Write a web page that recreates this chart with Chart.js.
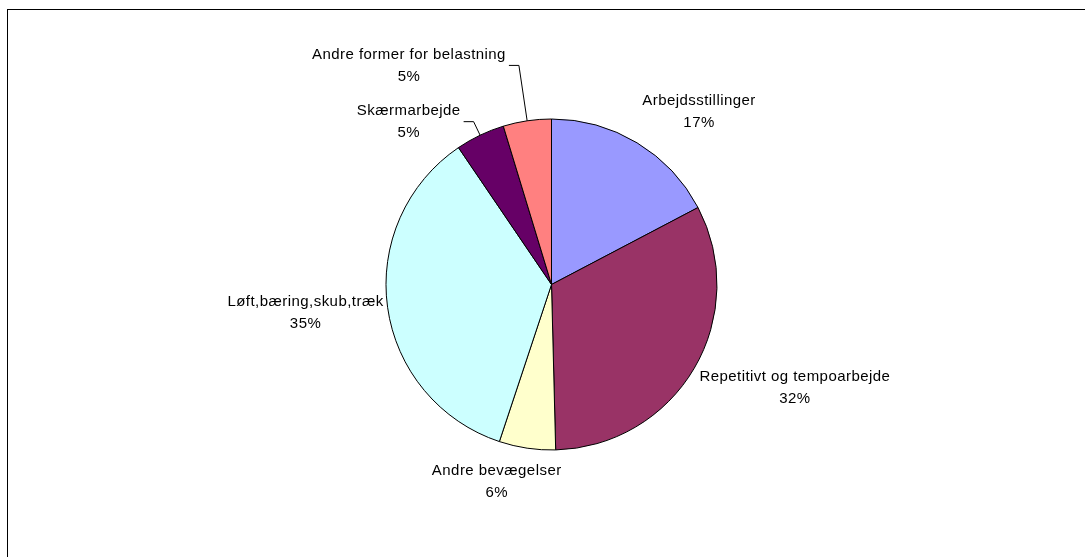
<!DOCTYPE html>
<html>
<head>
<meta charset="utf-8">
<script src="https://cdn.jsdelivr.net/npm/chart.js@4/dist/chart.umd.min.js"></script>
<style>
  body { margin: 0; background: #fff; }
  #wrap { width: 1085px; height: 557px; }
</style>
</head>
<body>
<div id="wrap"><canvas id="pie-chart" width="1085" height="557"></canvas></div>
<script>
// Categories, clockwise from 12 o'clock
const categories = ['Arbejdsstillinger', 'Repetitivt og tempoarbejde', 'Andre bevægelser',
    'Løft,bæring,skub,træk', 'Skærmarbejde', 'Andre former for belastning'];
const shares = [17.3, 32.3, 5.5, 35.4, 4.8, 4.7];
const sliceColors = ['#9999FF', '#993366', '#FFFFCC', '#CCFFFF', '#660066', '#FF8080'];

// label placement: gap outside the rim, or a leader line length
const labelGap = [10, 6, 12, 4, 0, 0];
const leaderLen = [0, 0, 0, 0, 15, 56];

const FONT = '15px "Liberation Sans", Arial, sans-serif';

const framePlugin = {
    id: 'frame',
    beforeDraw(chart) {
        const ctx = chart.ctx;
        ctx.save();
        ctx.strokeStyle = '#000';
        ctx.lineWidth = 1;
        ctx.strokeRect(7.5, 9.5, 1200, 700);
        ctx.restore();
    }
};

function clamp(v) { return Math.max(-1, Math.min(1, v)); }

const labelPlugin = {
    id: 'sliceLabels',
    afterDatasetsDraw(chart) {
        const ctx = chart.ctx;
        const meta = chart.getDatasetMeta(0);
        const total = shares.reduce((a, b) => a + b, 0);
        ctx.save();
        ctx.font = FONT;
        ctx.letterSpacing = '0.45px';
        ctx.fillStyle = '#000';
        ctx.textBaseline = 'middle';
        ctx.textAlign = 'center';
        meta.data.forEach((arc, i) => {
            const p = arc.getProps(['x', 'y', 'startAngle', 'endAngle', 'outerRadius'], true);
            const mid = (p.startAngle + p.endAngle) / 2;
            const ux = Math.cos(mid), uy = Math.sin(mid);
            const r = p.outerRadius;
            const line1 = categories[i];
            const line2 = Math.round(shares[i] / total * 100) + '%';
            const w = Math.max(ctx.measureText(line1).width, ctx.measureText(line2).width);
            const h = 44;
            let cx, cy;
            if (leaderLen[i] > 0) {
                const ex = p.x + ux * r, ey = p.y + uy * r;
                const bx = p.x + ux * (r + leaderLen[i]), by = p.y + uy * (r + leaderLen[i]);
                const endX = bx - 10;
                ctx.strokeStyle = '#000';
                ctx.lineWidth = 1;
                ctx.beginPath();
                ctx.moveTo(ex, ey);
                ctx.lineTo(bx, by);
                ctx.lineTo(endX, by);
                ctx.stroke();
                cx = endX - 3 - w / 2;
                cy = by;
            } else {
                const d = r + labelGap[i];
                const ax = p.x + ux * d, ay = p.y + uy * d;
                cx = ax + w / 2 * clamp(ux * 3);
                cy = ay + h / 2 * clamp(uy * 1.5);
            }
            ctx.fillText(line1, cx, cy - 11);
            ctx.fillText(line2, cx, cy + 11);
        });
        ctx.restore();
    }
};

const ctx = document.getElementById('pie-chart').getContext('2d');
const pieChart = new Chart(ctx, {
    type: 'pie',
    data: {
        labels: categories,
        datasets: [{
            data: shares,
            backgroundColor: sliceColors,
            borderColor: '#000',
            borderWidth: 1
        }]
    },
    options: {
        responsive: false,
        animation: false,
        radius: 165.5,
        layout: {
            padding: { left: 386, right: 368, top: 119, bottom: 107 }
        },
        plugins: {
            legend: { display: false },
            tooltip: { enabled: false }
        }
    },
    plugins: [framePlugin, labelPlugin]
});
</script>
</body>
</html>
